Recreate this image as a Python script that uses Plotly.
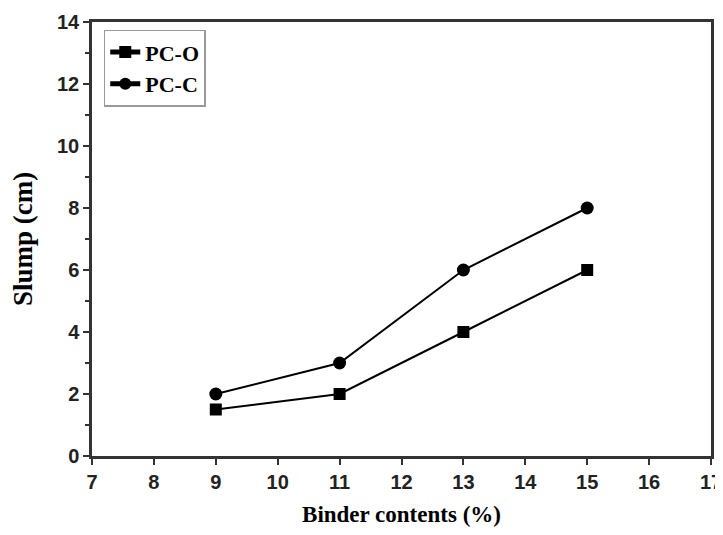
import plotly.graph_objects as go

binder = [9, 11, 13, 15]
pc_o = [1.5, 2, 4, 6]
pc_c = [2, 3, 6, 8]

x_ticks = [7, 8, 9, 10, 11, 12, 13, 14, 15, 16, 17]
y_ticks = [0, 2, 4, 6, 8, 10, 12, 14]

fig = go.Figure()
fig.add_trace(go.Scatter(x=binder, y=pc_o, name="<b>PC-O</b>", mode="lines+markers",
                         line=dict(color="black", width=2),
                         marker=dict(symbol="square", size=12, color="black")))
fig.add_trace(go.Scatter(x=binder, y=pc_c, name="<b>PC-C</b>", mode="lines+markers",
                         line=dict(color="black", width=2),
                         marker=dict(symbol="circle", size=13, color="black")))

tickfont = dict(family="Liberation Sans", size=20, color="#222222")

fig.update_layout(
    width=715, height=519,
    margin=dict(l=84, r=12, t=14, b=71),
    plot_bgcolor="white", paper_bgcolor="white",
    showlegend=True,
    legend=dict(x=0.019, y=0.982, xanchor="left", yanchor="top",
                bordercolor="#999999", borderwidth=1.5, bgcolor="white",
                font=dict(family="Liberation Serif", size=22, color="black"),
                tracegroupgap=0, itemsizing="constant"),
)
fig.update_xaxes(range=[7, 17], tickvals=x_ticks, ticktext=[f"<b>{v}</b>" for v in x_ticks],
                 ticks="outside", ticklen=6, tickwidth=2,
                 tickcolor="#333333", automargin=False, ticklabeloverflow="allow",
                 showline=True, linecolor="#333333", linewidth=2.5, mirror=True,
                 showgrid=False, zeroline=False,
                 tickfont=tickfont,
                 title=dict(text="<b>Binder contents (%)</b>",
                            font=dict(family="Liberation Serif", size=23, color="black"),
                            standoff=17))
fig.update_yaxes(range=[0, 14], tickvals=y_ticks, ticktext=[f"<b>{v}</b>" for v in y_ticks],
                 ticks="outside", ticklen=6, tickwidth=2,
                 tickcolor="#333333", automargin=False,
                 minor=dict(dtick=1, ticks="outside", ticklen=4, tickwidth=1.5, tickcolor="#333333"),
                 showline=True, linecolor="#333333", linewidth=2.5, mirror=True,
                 showgrid=False, zeroline=False,
                 tickfont=tickfont,
                 title=dict(text="<b>Slump (cm)</b>",
                            font=dict(family="Liberation Serif", size=27, color="black"),
                            standoff=22))

fig.write_html("out.html")
